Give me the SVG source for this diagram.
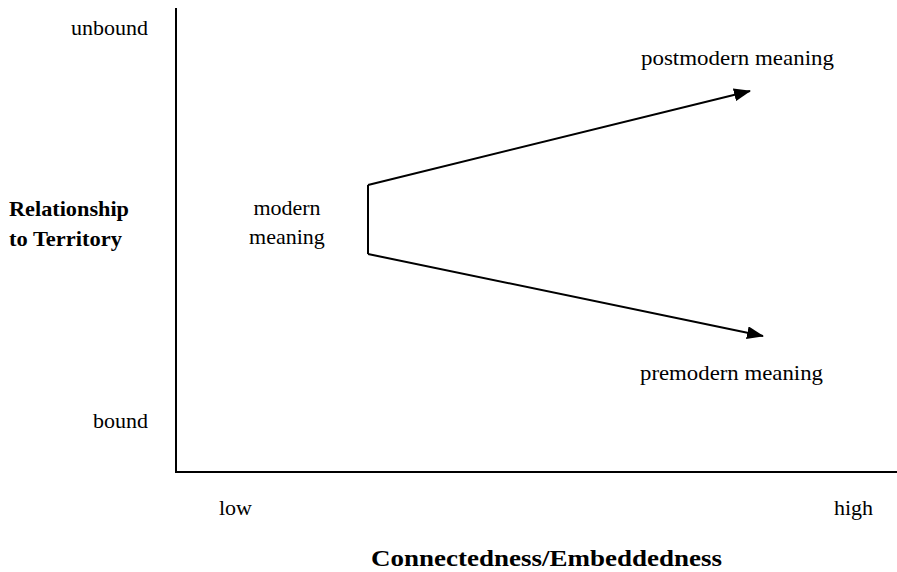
<svg xmlns="http://www.w3.org/2000/svg" width="897" height="572" viewBox="0 0 897 572">
<defs>
<style>
text{font-family:"Liberation Serif","Times New Roman",serif;font-size:22px;fill:#000}
.b{font-weight:bold}
.ax{stroke:#000;stroke-width:2;fill:none}
.ln{stroke:#000;stroke-width:2;fill:none}
</style>
<marker id="ah" viewBox="0 0 17 13" refX="16" refY="6.5" markerWidth="17" markerHeight="13" markerUnits="userSpaceOnUse" orient="auto">
<path d="M0,0 L17,6.5 L0,13 z" fill="#000"/>
</marker>
</defs>
<rect width="897" height="572" fill="#fff"/>
<g id="axes">
<path class="ax" d="M176,8 V472 H897"/>
</g>
<g id="labels">
<text x="148" y="35" text-anchor="end">unbound</text>
<text x="148" y="428" text-anchor="end">bound</text>
<text class="b" x="9" y="216" textLength="120" lengthAdjust="spacingAndGlyphs">Relationship</text>
<text class="b" x="9" y="246" textLength="113" lengthAdjust="spacingAndGlyphs">to Territory</text>
<text x="219" y="515">low</text>
<text x="873" y="515" text-anchor="end">high</text>
<text class="b" x="371" y="566" textLength="351" lengthAdjust="spacingAndGlyphs" style="font-size:23px">Connectedness/Embeddedness</text>
</g>
<g id="modern">
<text x="287" y="215" text-anchor="middle">modern</text>
<text x="287" y="244" text-anchor="middle">meaning</text>
</g>
<g id="postmodern">
<text x="641" y="65" textLength="193" lengthAdjust="spacingAndGlyphs">postmodern meaning</text>
</g>
<g id="premodern">
<text x="640" y="380" textLength="183" lengthAdjust="spacingAndGlyphs">premodern meaning</text>
</g>
<g id="connectors">
<path class="ln" d="M368,185 V254"/>
<path class="ln" d="M368,185 L750,91" marker-end="url(#ah)"/>
<path class="ln" d="M368,254 L763,336" marker-end="url(#ah)"/>
</g>
</svg>
